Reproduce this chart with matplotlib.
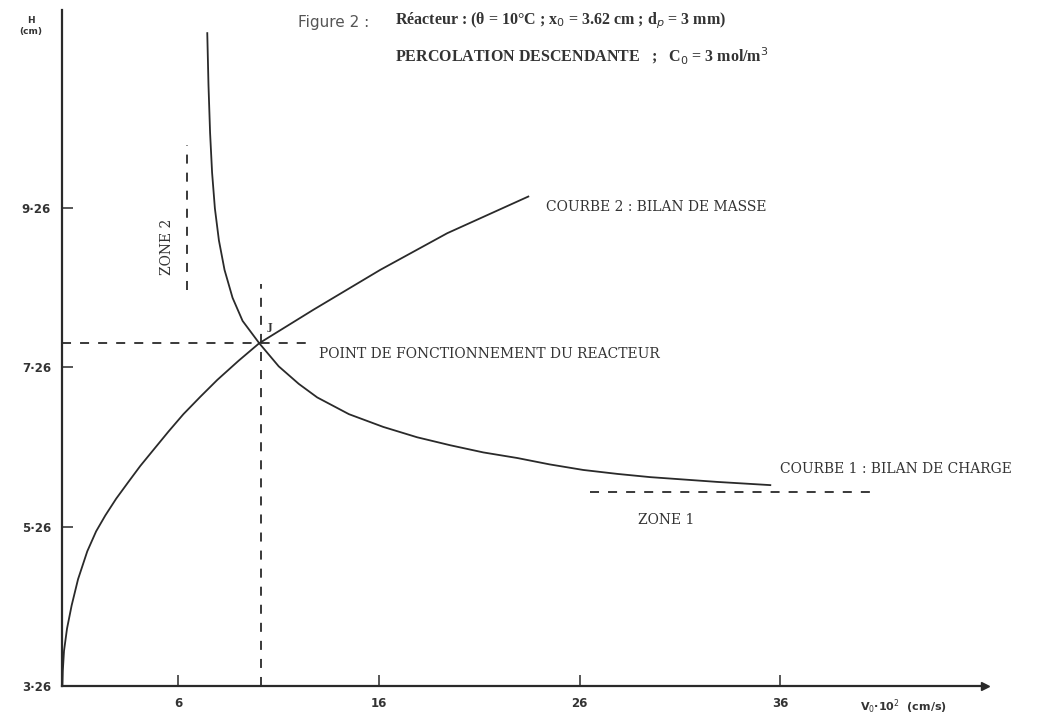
import matplotlib
matplotlib.use("Agg")
import matplotlib.pyplot as plt

# Courbe 1 : bilan de charge (V0*10^2 in cm/s, H in cm)
c1_x = [7.44, 7.50, 7.58, 7.68, 7.82, 8.02, 8.30, 8.70, 9.20, 10.03, 11.0, 12.0,
        12.92, 14.5, 16.21, 17.9, 19.55, 21.2, 22.89, 24.5, 26.18, 27.9, 29.52,
        31.2, 32.86, 35.50]
c1_y = [11.45, 10.80, 10.20, 9.70, 9.25, 8.85, 8.48, 8.13, 7.84, 7.56, 7.27, 7.05,
        6.88, 6.67, 6.51, 6.38, 6.28, 6.19, 6.12, 6.04, 5.97, 5.92, 5.88, 5.85,
        5.82, 5.78]

# Courbe 2 : bilan de masse
c2_x = [0.22, 0.24, 0.30, 0.45, 0.68, 1.00, 1.46, 1.90, 2.36, 2.90, 3.51, 4.10,
        4.75, 5.50, 6.25, 7.10, 7.94, 9.00, 10.03, 12.73, 16.06, 19.40, 23.44]
c2_y = [3.26, 3.45, 3.70, 3.98, 4.27, 4.60, 4.95, 5.20, 5.40, 5.61, 5.82, 6.02,
        6.22, 6.45, 6.67, 6.89, 7.10, 7.34, 7.56, 7.98, 8.48, 8.94, 9.40]

# operating point and zones
op_x, op_y = 10.1, 7.56
zone2_x, zone2_y = 6.45, [8.23, 10.05]
zone1_y, zone1_x = 5.69, [26.5, 40.7]

x_ticks = [6, 16, 26, 36]
x_ticklabels = ["6", "16", "26", "36"]
y_ticks = [3.26, 5.26, 7.26, 9.26]
y_ticklabels = ["3·26", "5·26", "7·26", "9·26"]

W, H = 1050, 718
fig = plt.figure(figsize=(W / 100, H / 100), dpi=100)
ax = fig.add_axes([62 / W, 32 / H, (985 - 62) / W, (686 - 10) / H])
ax.set_xlim(0.2, 46.2)
ax.set_ylim(3.26, 11.74)

ink = "#2a2a2a"
ax.plot(c1_x, c1_y, color=ink, lw=1.3)
ax.plot(c2_x, c2_y, color=ink, lw=1.3)

dash = dict(color=ink, lw=1.3, linestyle=(0, (5, 5)))
ax.plot([op_x, op_x], [3.26, 8.3], **dash)
ax.plot([0.2, 12.6], [op_y, op_y], **dash)
ax.plot([zone2_x, zone2_x], zone2_y, **dash)
ax.plot(zone1_x, [zone1_y, zone1_y], **dash)

for s in ["top", "right"]:
    ax.spines[s].set_visible(False)
for s in ["left", "bottom"]:
    ax.spines[s].set_color(ink)
    ax.spines[s].set_linewidth(1.6)
ax.plot(1, 0, marker=">", color=ink, markersize=6, transform=ax.transAxes, clip_on=False)

ax.set_xticks(x_ticks)
ax.set_xticklabels(x_ticklabels)
ax.set_yticks(y_ticks)
ax.set_yticklabels(y_ticklabels)
ax.tick_params(axis="both", direction="in", length=8, width=1.1, color=ink,
               labelsize=8.5, labelcolor="#333333")
ax.tick_params(axis="x", pad=8)
ax.tick_params(axis="y", pad=8)
for lbl in ax.get_xticklabels() + ax.get_yticklabels():
    lbl.set_fontweight("bold")

serif = "DejaVu Serif"
tc = "#333333"
fs = 10
ax.text(24.3, 9.27, "COURBE 2 : BILAN DE MASSE", family=serif, fontsize=fs,
        color=tc, va="center", ha="left")
ax.text(36.0, 5.98, "COURBE 1 : BILAN DE CHARGE", family=serif, fontsize=fs,
        color=tc, va="center", ha="left")
ax.text(13.0, 7.42, "POINT DE FONCTIONNEMENT DU REACTEUR", family=serif,
        fontsize=fs, color=tc, va="center", ha="left")
ax.text(30.3, 5.34, "ZONE 1", family=serif, fontsize=fs, color=tc,
        va="center", ha="center")
ax.text(5.45, 8.77, "ZONE 2", family=serif, fontsize=fs, color=tc,
        va="center", ha="center", rotation=90)
ax.text(10.45, 7.76, "J", family=serif, fontsize=7, color=tc, va="center",
        ha="left", fontweight="bold")

tserif = "Liberation Serif"
fig.text(298 / W, 1 - 22 / H, "Figure 2 :", family="DejaVu Sans", fontsize=11,
         color="#555555", va="center", ha="left")
fig.text(395 / W, 1 - 21 / H,
         "Réacteur : (θ = 10°C ; x$_0$ = 3.62 cm ; d$_p$ = 3 mm)",
         family=tserif, fontsize=11.5, color=tc, va="center", ha="left",
         fontweight="bold")
fig.text(395 / W, 1 - 56 / H, "PERCOLATION DESCENDANTE   ;   C$_0$ = 3 mol/m$^3$",
         family=tserif, fontsize=11.5, color=tc, va="center", ha="left",
         fontweight="bold")
fig.text(31 / W, 1 - 26 / H, "H\n(cm)", family="DejaVu Sans", fontsize=6.5,
         color=tc, va="center", ha="center", fontweight="bold", linespacing=1.3)
fig.text(860 / W, 1 - 707 / H, "V$_0$·10$^2$  (cm/s)", family="DejaVu Sans",
         fontsize=8, color=tc, va="center", ha="left", fontweight="bold")

fig.savefig("out.png", dpi=100, facecolor="white")
